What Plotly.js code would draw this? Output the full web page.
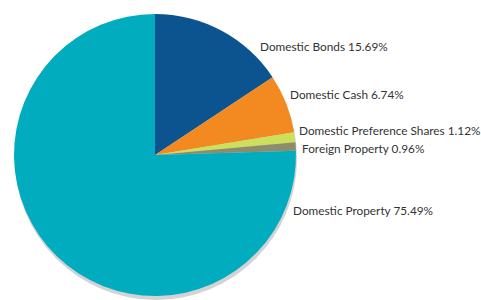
<!DOCTYPE html>
<html><head><meta charset="utf-8">
<script src="https://cdn.plot.ly/plotly-3.0.1.min.js"></script>
<style>html,body{margin:0;padding:0;background:#fff}#c{width:481px;height:300px}</style>
</head><body><div id="c"></div>
<script>
var categories = ["Domestic Bonds", "Domestic Cash", "Domestic Preference Shares", "Foreign Property", "Domestic Property"];
var values = [15.69, 6.74, 1.12, 0.96, 75.49];
var colors = ["#0b5490", "#f38a21", "#cde05b", "#8e8d6b", "#02acbf"];
var labelPos = [[259, 46], [289, 94], [298, 130], [301, 148], [292, 210]];

var W = 481, H = 300;
var pie = {
  type: "pie", values: values, labels: categories, sort: false, direction: "clockwise", rotation: 0,
  marker: {colors: colors, line: {width: 0}}, textinfo: "none", hoverinfo: "label+percent",
  domain: {x: [14/W, 296/W], y: [(H-296)/H, (H-14)/H]}, showlegend: false
};
var shadow = {
  type: "pie", values: [1], labels: ["shadow"], sort: false, textinfo: "none", hoverinfo: "skip",
  marker: {colors: ["#d3d3d5"], line: {width: 0}},
  domain: {x: [15/W, 297/W], y: [0, (H-18)/H]}, showlegend: false
};
var annotations = categories.map(function (c, i) {
  return {
    text: c + " " + values[i].toFixed(2) + "%", xref: "paper", yref: "paper",
    x: labelPos[i][0]/W, y: 1 - labelPos[i][1]/H, xanchor: "left", yanchor: "middle",
    showarrow: false, borderpad: 0, font: {family: "Lato", size: 11.8, color: "#333333"}
  };
});
Plotly.newPlot("c", [shadow, pie], {
  width: W, height: H, margin: {l: 0, r: 0, t: 0, b: 0}, paper_bgcolor: "#fff",
  annotations: annotations
}, {displayModeBar: false, staticPlot: true});
</script></body></html>
